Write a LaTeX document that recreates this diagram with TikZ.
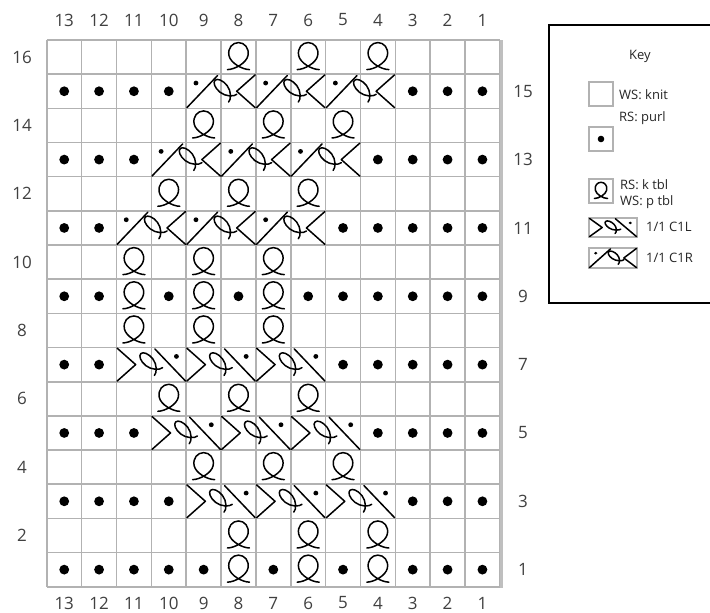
\documentclass[tikz,border=0pt]{standalone}
\usepackage{fontspec}
\setmainfont{Open Sans}
\newcommand\loopglyph{\draw[glyph] (-11,12.5) .. controls (-4,12.5) and (8,6) .. (9.5,-1.5)
      .. controls (11,-9) and (6,-14.5) .. (0,-14.5)
      .. controls (-6,-14.5) and (-11,-9) .. (-9.5,-1.5)
      .. controls (-8,6) and (4,12.5) .. (11,12.5);}
% #1 = x of the loop centre, #2 = loop rotation
\newcommand\cabglyph[2]{%
  \draw[glyph] (1.1,0.04) -- (1.98,0.98);
  \draw[glyph] (0.02,0.02) -- (0.55,0.5) -- (0.02,0.98);
  \fill (1.72,0.26) circle (0.07);
  \begin{scope}[shift={(#1,0.46)}, rotate=#2, scale=0.027, xscale=0.55]
    \loopglyph
  \end{scope}}
\begin{document}
\begin{tikzpicture}[x=1pt,y=-1pt,
  gridline/.style={draw=black!30, line width=1.6pt},
  glyph/.style={draw=black, line width=1.5pt, line cap=round, line join=round},
  num/.style={font=\fontsize{17}{19}\selectfont, text=black!75, inner sep=0pt},
  keytext/.style={font=\fontsize{13}{15}\selectfont, text=black!85, inner sep=0pt, anchor=west},
  keybox/.style={draw=black!30, line width=1.3pt}
]
\fill[white] (0,0) rectangle (710,613);
\useasboundingbox (0,0) rectangle (710,613);

% grid
\foreach \i in {0,...,13} \draw[gridline] ({46.8+\i*34.85},40) -- ({46.8+\i*34.85},586.7);
\foreach \j in {0,...,16} \draw[gridline] (46.8,{40+\j*34.17}) -- (499.9,{40+\j*34.17});
\draw[draw=black!25, line width=3pt] (501.5,40) -- (501.5,588);

% purl dots
\foreach \r/\cols in {15/{13,12,11,10,3,2,1}, 13/{13,12,11,4,3,2,1}, 11/{13,12,5,4,3,2,1},
  9/{13,12,10,8,6,5,4,3,2,1}, 7/{13,12,5,4,3,2,1}, 5/{13,12,11,4,3,2,1},
  3/{13,12,11,10,3,2,1}, 1/{13,12,11,10,9,7,5,3,2,1}}
  \foreach \c in \cols \fill ({46.8+(13.5-\c)*34.85},{40+(16.5-\r)*34.17}) circle (4.9);

% twisted stitches
\foreach \r/\cols in {16/{8,6,4}, 14/{9,7,5}, 12/{10,8,6}, 10/{11,9,7}, 9/{11,9,7},
  8/{11,9,7}, 6/{10,8,6}, 4/{9,7,5}, 2/{8,6,4}, 1/{8,6,4}}
  \foreach \c in \cols {
    \begin{scope}[shift={({46.8+(13.5-\c)*34.85},{40+(16.5-\r)*34.17})}]
      \loopglyph
    \end{scope}
  }

% 1/1 C1R cables (mirrored)
\foreach \r/\cols in {15/{9,7,5}, 13/{10,8,6}, 11/{11,9,7}}
  \foreach \c in \cols {
    \begin{scope}[shift={({46.8+(15-\c)*34.85},{40+(16-\r)*34.17})}, xscale=-34.85, yscale=34.17]
      \cabglyph{0.9}{-44}
    \end{scope}
  }
% 1/1 C1L cables
\foreach \r/\cols in {7/{11,9,7}, 5/{10,8,6}, 3/{9,7,5}}
  \foreach \c in \cols {
    \begin{scope}[shift={({46.8+(13-\c)*34.85},{40+(16-\r)*34.17})}, xscale=34.85, yscale=34.17]
      \cabglyph{0.97}{44}
    \end{scope}
  }

% column numbers
\foreach \c in {1,...,13} {
  \node[num] (top\c) at ({46.8+(13.5-\c)*34.85},20) {\c};
  \node[num] (bot\c) at ({46.8+(13.5-\c)*34.85},603) {\c};
}
% row numbers
\foreach \r in {2,4,...,16} \node[num] (left\r) at (22,{40+(16.5-\r)*34.17}) {\r};
\foreach \r in {1,3,...,15} \node[num] (right\r) at (523,{40+(16.5-\r)*34.17}) {\r};

% key
\draw[line width=2.2pt] (716,25) -- (549,25) -- (549,303) -- (716,303);
\node[font=\fontsize{13}{15}\selectfont, text=black!85, inner sep=0pt] (keytitle) at (640,56) {Key};
\draw[keybox] (589,82) rectangle (613,106);
\node[keytext] (k1) at (619,95) {WS: knit};
\draw[keybox] (589,127) rectangle (613,151);
\fill (601,139) circle (3.3);
\node[keytext] (k2) at (619,118) {RS: purl};
\draw[keybox] (589,179) rectangle (613,203);
\begin{scope}[shift={(601,191)}, scale=0.6]
  \loopglyph
\end{scope}
\node[keytext] (k3) at (620,185) {RS: k tbl};
\node[keytext] (k4) at (620,202) {WS: p tbl};
\draw[keybox] (589,218) rectangle (637,237);
\begin{scope}[shift={(589,218)}, xscale=24, yscale=19]
  \cabglyph{0.97}{44}
\end{scope}
\node[keytext] (k5) at (646,227) {1/1 C1L};
\draw[keybox] (589,248) rectangle (637,268);
\begin{scope}[shift={(637,248)}, xscale=-24, yscale=20]
  \cabglyph{0.9}{-44}
\end{scope}
\node[keytext] (k6) at (646,258) {1/1 C1R};
\end{tikzpicture}
\end{document}
